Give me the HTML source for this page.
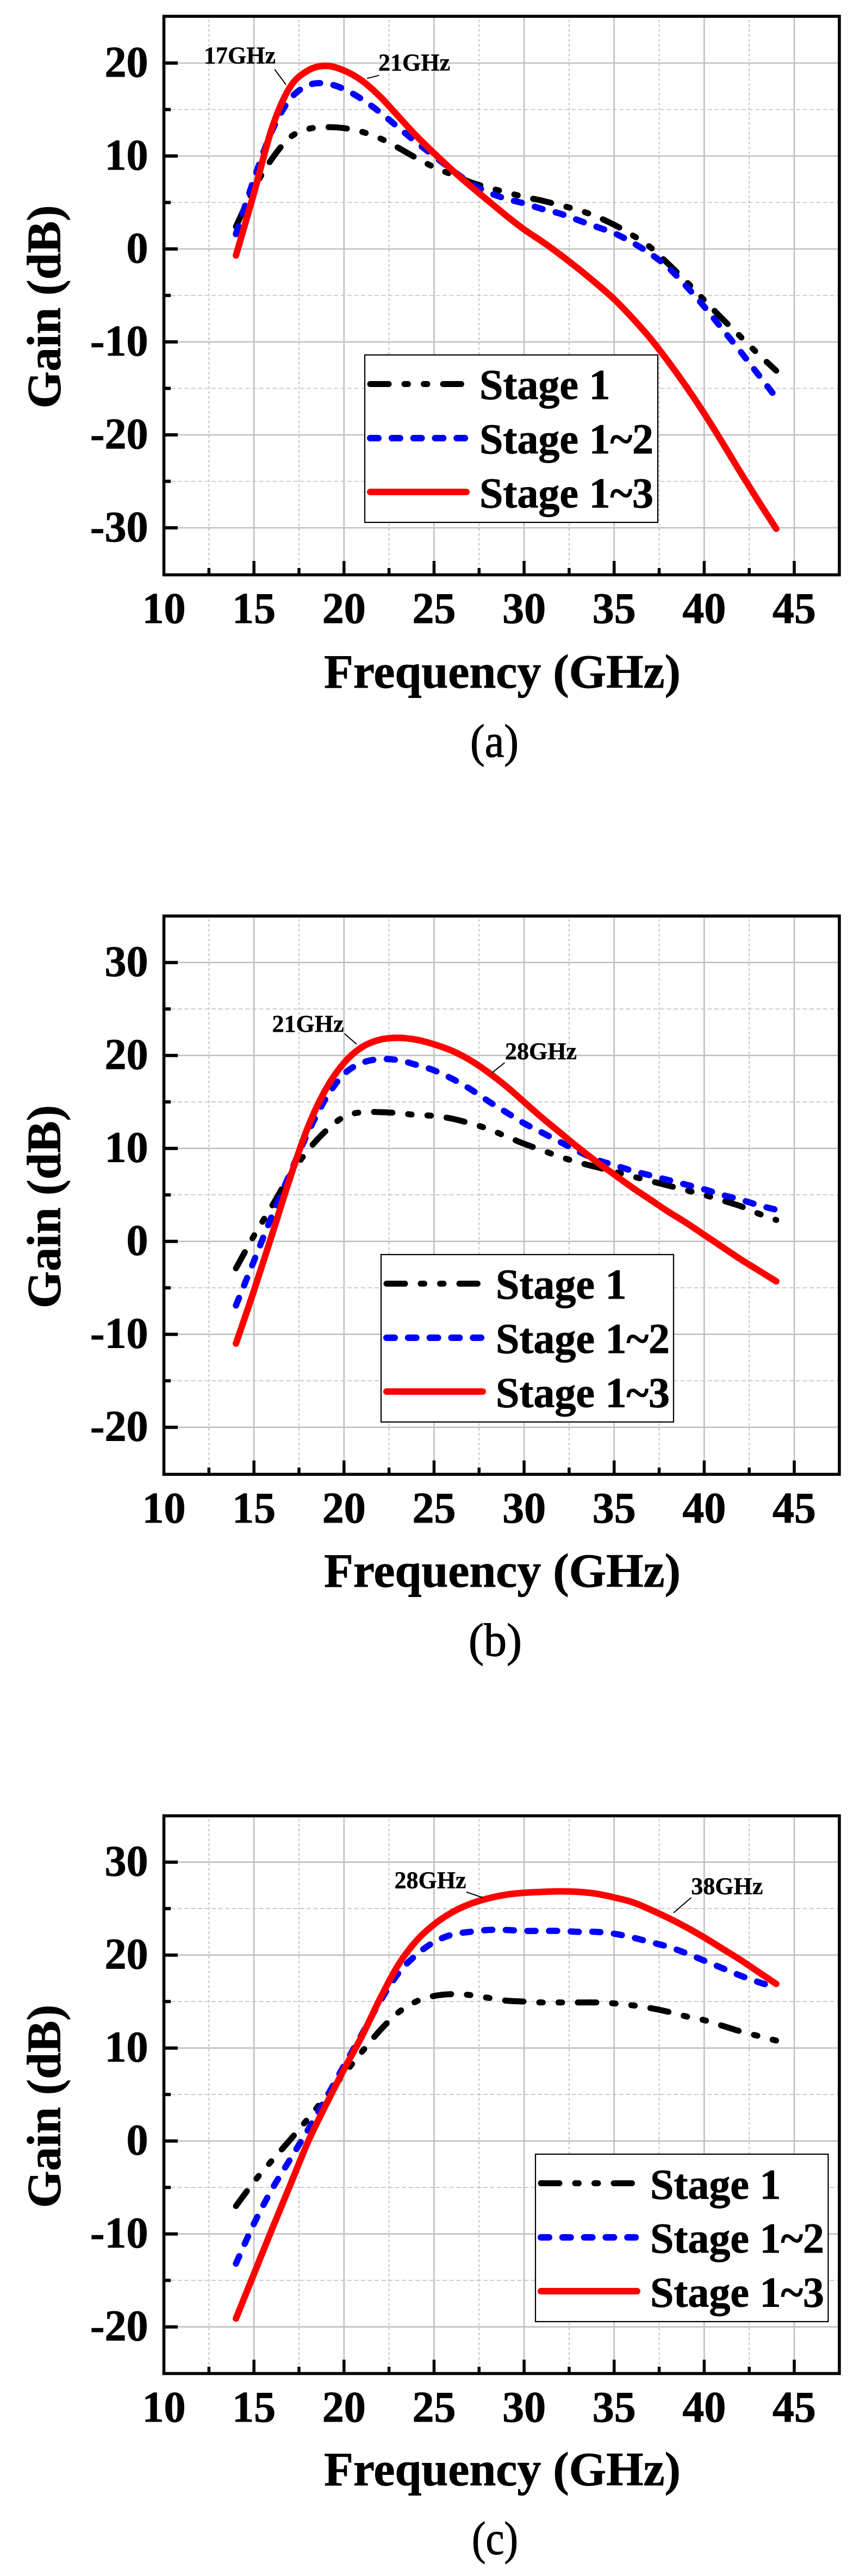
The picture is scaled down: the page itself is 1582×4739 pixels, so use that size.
<!DOCTYPE html>
<html lang="en">
<head>
<meta charset="utf-8">
<title>Gain versus frequency by amplifier stage</title>
<style>
  html, body { margin: 0; padding: 0; background: #ffffff; }
  svg { display: block; }
  text { font-family: "Liberation Serif", serif; fill: #000; stroke: #000; }
  .axis-title { font-size: 88px; font-weight: 700; stroke-width: 0.9; }
  .legend-text { font-size: 78px; font-weight: 700; stroke-width: 0.9; }
  .note { font-size: 44px; font-weight: 700; stroke-width: 0.4; }
  .caption { font-size: 86px; font-weight: 400; stroke-width: 1.2; }
  .tick-label { font-size: 80px; font-weight: 700; stroke-width: 0.9; }
  .leader { stroke: #000; stroke-width: 2; fill: none; }
  .legend-box { fill: #fff; stroke: #000; stroke-width: 2.2; }
  .frame { fill: none; stroke: #000; stroke-width: 5.6; }
</style>
</head>
<body>
<svg id="fig" xmlns="http://www.w3.org/2000/svg" width="1582" height="4739" viewBox="0 0 1582 4739">
  <rect width="1582" height="4739" fill="#fff"/>

  <!-- Panel A -->
  <g id="panel-a">
    <g id="panel-a-grid"></g>
    <g id="panel-a-series"></g>
    <g>
      <rect class="legend-box" x="671" y="653" width="539" height="308"/>
      <line x1="681" x2="848.5" y1="706.5" y2="706.5" stroke="#000" stroke-width="11" stroke-linecap="round" stroke-dasharray="34 29 6.5 29 6.5 29"/>
      <line x1="681" x2="856" y1="806" y2="806" stroke="#0000ff" stroke-width="12" stroke-linecap="round" stroke-dasharray="15 24.8"/>
      <line x1="681" x2="858" y1="905" y2="905" stroke="#ff0000" stroke-width="12" stroke-linecap="round"/>
      <text class="legend-text" x="882" y="734">Stage 1</text>
      <text class="legend-text" x="882" y="834">Stage 1~2</text>
      <text class="legend-text" x="882" y="933.5">Stage 1~3</text>
    </g>
    <text class="note" x="375" y="116.7">17GHz</text>
    <line class="leader" x1="505.3" y1="127.7" x2="526" y2="155.7"/>
    <text class="note" x="696" y="129.5">21GHz</text>
    <line class="leader" x1="675" y1="144.3" x2="697.3" y2="138.7"/>
    <rect class="frame" x="301.5" y="30" width="1242.5" height="1027.5"/>
    <text class="axis-title" x="924" y="1265" text-anchor="middle">Frequency (GHz)</text>
    <text class="axis-title" transform="translate(110.5 564.5) rotate(-90)" text-anchor="middle">Gain (dB)</text>
    <text class="caption" x="865" y="1392" textLength="89" lengthAdjust="spacingAndGlyphs">(a)</text>
  </g>

  <!-- Panel B -->
  <g id="panel-b">
    <g id="panel-b-grid"></g>
    <g id="panel-b-series"></g>
    <g>
      <rect class="legend-box" x="701" y="2308" width="538" height="308"/>
      <line x1="711" x2="878.5" y1="2361.5" y2="2361.5" stroke="#000" stroke-width="11" stroke-linecap="round" stroke-dasharray="34 29 6.5 29 6.5 29"/>
      <line x1="711" x2="886" y1="2461" y2="2461" stroke="#0000ff" stroke-width="12" stroke-linecap="round" stroke-dasharray="15 24.8"/>
      <line x1="711" x2="888" y1="2560" y2="2560" stroke="#ff0000" stroke-width="12" stroke-linecap="round"/>
      <text class="legend-text" x="912" y="2389">Stage 1</text>
      <text class="legend-text" x="912" y="2489">Stage 1~2</text>
      <text class="legend-text" x="912" y="2588.5">Stage 1~3</text>
    </g>
    <text class="note" x="500.5" y="1898">21GHz</text>
    <line class="leader" x1="633.7" y1="1901.6" x2="656" y2="1921"/>
    <text class="note" x="929" y="1948.7">28GHz</text>
    <line class="leader" x1="928.4" y1="1955" x2="905" y2="1973.7"/>
    <rect class="frame" x="301.5" y="1685.2" width="1242.5" height="1027.1"/>
    <text class="axis-title" x="924" y="2919" text-anchor="middle">Frequency (GHz)</text>
    <text class="axis-title" transform="translate(110.5 2220) rotate(-90)" text-anchor="middle">Gain (dB)</text>
    <text class="caption" x="862" y="3046" textLength="98" lengthAdjust="spacingAndGlyphs">(b)</text>
  </g>

  <!-- Panel C -->
  <g id="panel-c">
    <g id="panel-c-grid"></g>
    <g id="panel-c-series"></g>
    <g>
      <rect class="legend-box" x="985" y="3963" width="538.5" height="308"/>
      <line x1="995" x2="1162.5" y1="4016.5" y2="4016.5" stroke="#000" stroke-width="11" stroke-linecap="round" stroke-dasharray="34 29 6.5 29 6.5 29"/>
      <line x1="995" x2="1170" y1="4116" y2="4116" stroke="#0000ff" stroke-width="12" stroke-linecap="round" stroke-dasharray="15 24.8"/>
      <line x1="995" x2="1172" y1="4215" y2="4215" stroke="#ff0000" stroke-width="12" stroke-linecap="round"/>
      <text class="legend-text" x="1196" y="4045">Stage 1</text>
      <text class="legend-text" x="1196" y="4144">Stage 1~2</text>
      <text class="legend-text" x="1196" y="4243.5">Stage 1~3</text>
    </g>
    <text class="note" x="725.5" y="3473.3">28GHz</text>
    <line class="leader" x1="857.7" y1="3480.7" x2="888" y2="3491"/>
    <text class="note" x="1271.4" y="3484.4">38GHz</text>
    <line class="leader" x1="1271.4" y1="3491" x2="1239" y2="3519"/>
    <rect class="frame" x="301.5" y="3340.5" width="1242.5" height="1026"/>
    <text class="axis-title" x="924" y="4572" text-anchor="middle">Frequency (GHz)</text>
    <text class="axis-title" transform="translate(110.5 3875) rotate(-90)" text-anchor="middle">Gain (dB)</text>
    <text class="caption" x="868" y="4698.5" textLength="85" lengthAdjust="spacingAndGlyphs">(c)</text>
  </g>
</svg>

<script>
// ---- Chart data ----
const frequencies = [14,15,16,17,18,19,20,21,22,23,24,25,26,27,28,29,30,31,32,33,34,35,36,37,38,39,40,41,42,43,44];

const xTickLabels = [15,20,25,30,35,40,45];
const xEdgeLabels = [10];
const xMinorTicks = [12.5,17.5,22.5,27.5,32.5,37.5,42.5];

const yTickLabelsA = [20,10,0,-10,-20,-30];
const yMinorTicksA = [15,5,-5,-15,-25];
const yTickLabelsBC = [30,20,10,0,-10,-20];
const yMinorTicksBC = [25,15,5,-5,-15];

const gainA_stage1 = [2.4,6.5,9.7,12.0,12.9,13.1,13.0,12.6,11.9,10.9,9.8,8.8,8.0,7.2,6.6,6.1,5.6,5.2,4.7,4.2,3.5,2.6,1.5,0.2,-1.6,-3.5,-5.5,-7.5,-9.4,-11.3,-13.1];
const gainA_stage12 = [1.6,7.5,12.7,16.1,17.6,17.8,17.2,16.1,14.7,13.1,11.5,10.0,8.5,7.1,6.1,5.4,4.9,4.3,3.8,3.1,2.4,1.7,0.7,-0.5,-2.0,-4.0,-6.2,-8.6,-11.0,-13.5,-16.0];
const gainA_stage13 = [-0.7,6.0,13.0,17.4,19.2,19.7,19.2,18.1,16.4,14.3,12.2,10.3,8.5,6.8,5.2,3.6,2.1,0.8,-0.6,-2.1,-3.7,-5.4,-7.4,-9.6,-12.1,-14.8,-17.7,-20.8,-24.0,-27.1,-30.1];

const gainB_stage1 = [-2.9,0.6,3.8,7.1,9.8,11.9,13.4,13.9,13.9,13.8,13.6,13.5,13.2,12.7,12.1,11.3,10.5,9.8,9.1,8.5,8.0,7.5,7.0,6.5,6.0,5.5,5.0,4.4,3.8,3.0,2.3];
const gainB_stage12 = [-6.9,-2.1,2.75,7.3,11.7,15.4,18.0,19.2,19.6,19.5,19.0,18.4,17.5,16.4,15.1,13.9,12.7,11.7,10.7,9.7,8.8,8.2,7.6,7.1,6.6,6.1,5.6,5.0,4.5,3.9,3.4];
const gainB_stage13 = [-11.0,-5.3,0.7,6.8,12.3,16.4,19.2,20.9,21.7,21.9,21.7,21.2,20.5,19.5,18.2,16.7,15.0,13.3,11.7,10.1,8.6,7.2,5.8,4.5,3.2,2.0,0.7,-0.6,-1.9,-3.1,-4.3];

const gainC_stage1 = [-7.0,-4.4,-2.1,0.1,2.4,4.8,7.2,9.6,11.9,13.8,15.0,15.6,15.8,15.7,15.4,15.1,15.0,14.9,14.9,14.9,14.9,14.8,14.6,14.3,13.9,13.4,13.0,12.4,11.8,11.3,10.8];
const gainC_stage12 = [-13.2,-8.9,-5.2,-2.0,1.2,4.6,8.1,11.5,15.0,18.0,20.0,21.4,22.2,22.5,22.7,22.7,22.6,22.6,22.6,22.5,22.5,22.3,21.9,21.4,20.9,20.2,19.4,18.6,17.8,17.1,16.5];
const gainC_stage13 = [-19.1,-14.3,-9.5,-4.8,-0.1,3.9,7.7,11.3,15.3,18.9,21.5,23.3,24.6,25.5,26.1,26.5,26.7,26.8,26.85,26.8,26.6,26.2,25.7,24.9,24.0,23.0,21.9,20.7,19.5,18.2,16.9];

// ---- Axis functions ----
const SVG_NS = 'http://www.w3.org/2000/svg';
const X_LEFT = 301.5;
const X_PX_PER_GHZ = 33.13;
const Y_PX_PER_DB = 17.1;
const xScale = function (f) { return X_LEFT + (f - 10) * X_PX_PER_GHZ; };

function makeYScale(zeroPx) {
  return function (db) { return zeroPx - db * Y_PX_PER_DB; };
}

function smoothPath(xs, ys) {
  let d = 'M' + xs[0].toFixed(2) + ' ' + ys[0].toFixed(2);
  for (let i = 0; i < xs.length - 1; i++) {
    const i0 = Math.max(i - 1, 0);
    const i3 = Math.min(i + 2, xs.length - 1);
    const c1x = xs[i] + (xs[i + 1] - xs[i0]) / 6;
    const c1y = ys[i] + (ys[i + 1] - ys[i0]) / 6;
    const c2x = xs[i + 1] - (xs[i3] - xs[i]) / 6;
    const c2y = ys[i + 1] - (ys[i3] - ys[i]) / 6;
    d += 'C' + c1x.toFixed(2) + ' ' + c1y.toFixed(2) + ' ' + c2x.toFixed(2) + ' ' + c2y.toFixed(2) + ' ' + xs[i + 1].toFixed(2) + ' ' + ys[i + 1].toFixed(2);
  }
  return d;
}

function drawLine(parent, x1, y1, x2, y2, color, width, dash) {
  const el = document.createElementNS(SVG_NS, 'line');
  el.setAttribute('x1', x1);
  el.setAttribute('y1', y1);
  el.setAttribute('x2', x2);
  el.setAttribute('y2', y2);
  el.setAttribute('stroke', color);
  el.setAttribute('stroke-width', width);
  if (dash) el.setAttribute('stroke-dasharray', dash);
  parent.appendChild(el);
  return el;
}

function drawLabel(parent, x, y, anchor, value) {
  const el = document.createElementNS(SVG_NS, 'text');
  el.setAttribute('class', 'tick-label');
  el.setAttribute('x', x);
  el.setAttribute('y', y);
  el.setAttribute('text-anchor', anchor);
  el.textContent = String(value);
  parent.appendChild(el);
  return el;
}

function drawPanel(id, zeroPx, topPx, bottomPx, yLabels, yMinors, seriesList) {
  const yScale = makeYScale(zeroPx);
  const grid = document.getElementById(id + '-grid');
  const seriesGroup = document.getElementById(id + '-series');
  const GRID = '#c0c0c0';
  const RIGHT_INNER = 1541;

  // vertical grid
  xMinorTicks.forEach(function (f) {
    const px = xScale(f);
    const g = drawLine(grid, px, topPx + 6, px, bottomPx - 3, GRID, 2, '4.5 4.5');
    
    
    const t = drawLine(grid, px, bottomPx - 12.5, px, bottomPx, '#000', 5.5);
    
    
  });
  xTickLabels.forEach(function (f) {
    const px = xScale(f);
    const g = drawLine(grid, px, topPx + 2, px, bottomPx, GRID, 2.6);
    
    
    const t = drawLine(grid, px, bottomPx - 25.5, px, bottomPx, '#000', 5.5);
    
    
    const l = drawLabel(grid, px, bottomPx + 88.5, 'middle', f);
    
    
  });
  xEdgeLabels.forEach(function (f) {
    const l = drawLabel(grid, xScale(f), bottomPx + 88.5, 'middle', f);
    
    
  });

  // horizontal grid
  yMinors.forEach(function (v) {
    const py = yScale(v);
    const g = drawLine(grid, 314, py, RIGHT_INNER, py, GRID, 1.6, '8 4.5');
    
    
    const t = drawLine(grid, 301.5, py, 314, py, '#000', 6);
    
    
  });
  yLabels.forEach(function (v) {
    const py = yScale(v);
    const g = drawLine(grid, 327, py, RIGHT_INNER, py, GRID, 2.6);
    
    
    const t = drawLine(grid, 301.5, py, 327, py, '#000', 6);
    
    
    const l = drawLabel(grid, 272.5, py + 25, 'end', v);
    
    
  });

  // series
  seriesList.forEach(function (s) {
    const xs = frequencies.map(xScale);
    const ys = s.values.map(yScale);
    const p = document.createElementNS(SVG_NS, 'path');
    p.setAttribute('d', smoothPath(xs, ys));
    p.setAttribute('fill', 'none');
    p.setAttribute('stroke', s.color);
    p.setAttribute('stroke-width', s.width);
    p.setAttribute('stroke-linecap', 'round');
    p.setAttribute('stroke-linejoin', 'round');
    if (s.dash) p.setAttribute('stroke-dasharray', s.dash);
    
    
    seriesGroup.appendChild(p);
  });
}

const DASH_DOT_DOT = '34 29 6.5 29 6.5 29';
const SHORT_DASH = '15 24.8';

drawPanel('panel-a', 458, 30, 1057.5, yTickLabelsA, yMinorTicksA, [
  { name: 'series-stage-1', values: gainA_stage1, color: '#000000', width: 11, dash: DASH_DOT_DOT },
  { name: 'series-stage-1-2', values: gainA_stage12, color: '#0000ff', width: 11.5, dash: SHORT_DASH },
  { name: 'series-stage-1-3', values: gainA_stage13, color: '#ff0000', width: 12, dash: '' }
]);
drawPanel('panel-b', 2283.7, 1685.2, 2712.3, yTickLabelsBC, yMinorTicksBC, [
  { name: 'series-stage-1', values: gainB_stage1, color: '#000000', width: 11, dash: DASH_DOT_DOT },
  { name: 'series-stage-1-2', values: gainB_stage12, color: '#0000ff', width: 11.5, dash: SHORT_DASH },
  { name: 'series-stage-1-3', values: gainB_stage13, color: '#ff0000', width: 12, dash: '' }
]);
drawPanel('panel-c', 3938.7, 3340.5, 4366.5, yTickLabelsBC, yMinorTicksBC, [
  { name: 'series-stage-1', values: gainC_stage1, color: '#000000', width: 11, dash: DASH_DOT_DOT },
  { name: 'series-stage-1-2', values: gainC_stage12, color: '#0000ff', width: 11.5, dash: SHORT_DASH },
  { name: 'series-stage-1-3', values: gainC_stage13, color: '#ff0000', width: 12, dash: '' }
]);
</script>
</body>
</html>
